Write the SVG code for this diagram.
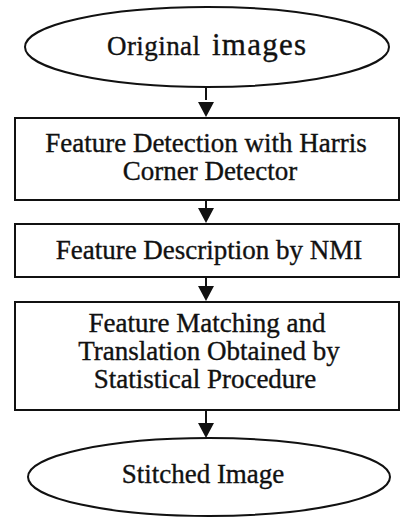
<svg xmlns="http://www.w3.org/2000/svg" width="401" height="518" viewBox="0 0 401 518">
<defs>
<style>
.shape{fill:#fff;stroke:#111;stroke-width:2}
.t{font-family:"Liberation Serif","Times New Roman",serif;font-size:27px;fill:#111;stroke:#111;stroke-width:0.35;text-anchor:middle}
.line{stroke:#111;stroke-width:2;fill:none}
.ah{fill:#111}
</style>
</defs>
<rect width="401" height="518" fill="#fff"/>
<g id="connectors">
<line class="line" x1="206" y1="87" x2="206" y2="100"/>
<path class="ah" d="M198,102 L214,102 L206,117 Z"/>
<line class="line" x1="206" y1="200" x2="206" y2="208"/>
<path class="ah" d="M198,208 L214,208 L206,223 Z"/>
<line class="line" x1="206" y1="277" x2="206" y2="286"/>
<path class="ah" d="M198,286 L214,286 L206,301 Z"/>
<line class="line" x1="206" y1="410" x2="206" y2="423"/>
<path class="ah" d="M198,423 L214,423 L206,438 Z"/>
</g>
<g id="original-images">
<ellipse class="shape" cx="207" cy="47" rx="182" ry="40"/>
<text x="107" y="55" font-family="Liberation Serif, serif" fill="#111" stroke="#111" stroke-width="0.35"><tspan font-size="27" textLength="93" lengthAdjust="spacing">Original</tspan><tspan x="212" font-size="31" textLength="94" lengthAdjust="spacing">images</tspan></text>
</g>
<g id="feature-detection">
<rect class="shape" x="15" y="118" width="384" height="82"/>
<text class="t" x="206" y="152">Feature Detection with Harris</text>
<text class="t" x="210" y="180">Corner Detector</text>
</g>
<g id="feature-description">
<rect class="shape" x="15" y="224" width="384" height="53"/>
<text class="t" x="209" y="259">Feature Description by NMI</text>
</g>
<g id="feature-matching">
<rect class="shape" x="15" y="302" width="384" height="108"/>
<text class="t" x="207" y="332">Feature Matching and</text>
<text class="t" x="209" y="360">Translation Obtained by</text>
<text class="t" x="205" y="388">Statistical Procedure</text>
</g>
<g id="stitched-image">
<ellipse class="shape" cx="209" cy="477" rx="181" ry="39"/>
<text class="t" x="203" y="483">Stitched Image</text>
</g>
</svg>
